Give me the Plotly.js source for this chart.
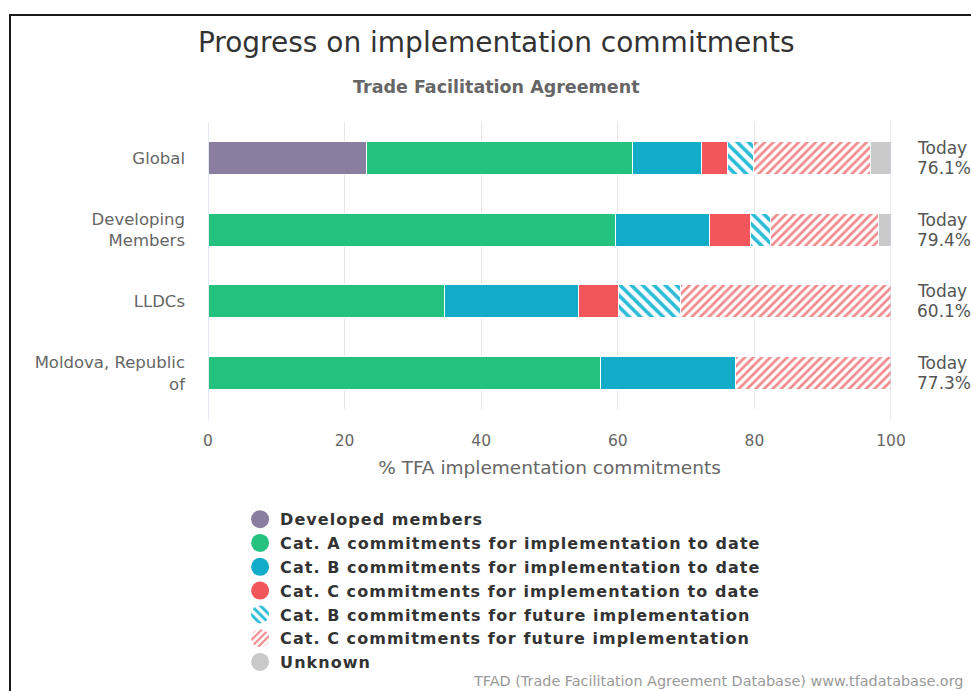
<!DOCTYPE html>
<html>
<head>
<meta charset="utf-8">
<script src="https://cdn.plot.ly/plotly-3.0.1.min.js"></script>
<style>
  html, body { margin: 0; padding: 0; background: #fff; }
  #chart { position: absolute; left: 0; top: 0; width: 971px; height: 691px; }
  #frame { position: absolute; left: 9px; top: 14px; right: 0; bottom: 0;
           border-top: 2px solid #1a1a1a; border-left: 2px solid #1a1a1a; pointer-events: none; }
  #chart .legendtext { letter-spacing: 1.05px; }
  #chart .legend .scrollbox, #chart .legend g { clip-path: none !important; }
</style>
</head>
<body>
<div id="chart"></div>
<div id="frame"></div>
<script>
// ---- data ----
const categories = ["Global", "Developing<br>Members", "LLDCs", "Moldova, Republic<br>of"];
const developed = [23.2, 0, 0, 0];
const catA = [39.0, 59.7, 34.6, 57.5];
const catB = [10.0, 13.7, 19.6, 19.8];
const catC = [3.9, 6.0, 5.9, 0];
const catBFuture = [3.8, 3.0, 9.1, 0];
const catCFuture = [17.1, 15.7, 30.8, 22.7];
const unknown = [3.0, 1.9, 0, 0];
const todayWord = "Today";
const todayValues = ["76.1%", "79.4%", "60.1%", "77.3%"];
const xTicks = [0, 20, 40, 60, 80, 100];

const seriesNames = [
  "Developed members",
  "Cat. A commitments for implementation to date",
  "Cat. B commitments for implementation to date",
  "Cat. C commitments for implementation to date",
  "Cat. B commitments for future implementation",
  "Cat. C commitments for future implementation",
  "Unknown"
];
const seriesValues = [developed, catA, catB, catC, catBFuture, catCFuture, unknown];
const seriesColors = ["#8a7ea0", "#25c17f", "#13acc8", "#f2555a", "#2bbcd8", "#f0898b", "#c9c9c9"];
const seriesPatterns = [null, null, null, null, {shape: "\\", size: 8, solidity: 0.45},
                        {shape: "/", size: 6, solidity: 0.45}, null];

const traces = seriesNames.map((name, i) => {
  const marker = {color: seriesColors[i], line: {color: "#ffffff", width: 1}};
  if (seriesPatterns[i]) {
    marker.pattern = Object.assign({fillmode: "replace", fgcolor: seriesColors[i], bgcolor: "#ffffff"}, seriesPatterns[i]);
  }
  return {
    type: "bar", orientation: "h", name: name,
    x: seriesValues[i], y: categories,
    marker: marker, hoverinfo: "skip"
  };
});

const annoFont = {family: "DejaVu Sans", size: 17, color: "#555555"};
const annotations = [];
todayValues.forEach((v, i) => {
  annotations.push({
    x: 100, y: categories[i], xref: "x", yref: "y",
    text: todayWord, showarrow: false, xanchor: "left", yanchor: "middle",
    xshift: 24, yshift: 10, font: annoFont
  });
  annotations.push({
    x: 100, y: categories[i], xref: "x", yref: "y",
    text: v, showarrow: false, xanchor: "left", yanchor: "middle",
    xshift: 24, yshift: -10, font: annoFont
  });
});
annotations.push({
  xref: "paper", yref: "paper", x: 1, y: 0, xanchor: "right", yanchor: "middle",
  xshift: 74, yshift: -272,
  text: "TFAD (Trade Facilitation Agreement Database) www.tfadatabase.org",
  showarrow: false, font: {family: "DejaVu Sans", size: 14.4, color: "#999999"}
});
annotations.push({
  xref: "paper", yref: "paper", x: 0.423, y: 1, xanchor: "center", yanchor: "middle",
  yshift: 35,
  text: "<b>Trade Facilitation Agreement</b>",
  showarrow: false, font: {family: "DejaVu Sans", size: 17.5, color: "#666666"}
});

const layout = {
  width: 971, height: 691,
  margin: {l: 208, r: 80, t: 122, b: 273},
  paper_bgcolor: "#ffffff", plot_bgcolor: "#ffffff",
  barmode: "stack", bargap: 0.54,
  showlegend: true,
  title: {
    text: "Progress on implementation commitments",
    x: 0.511, xref: "container", xanchor: "center",
    y: 1 - 42 / 691, yref: "container", yanchor: "middle",
    font: {family: "DejaVu Sans", size: 28, color: "#333333"}
  },
  xaxis: {
    range: [0, 100], tickvals: xTicks, ticktext: xTicks.map(String),
    showgrid: true, gridcolor: "#e6e6e6", gridwidth: 1,
    zeroline: false, showline: false, ticks: "",
    tickfont: {family: "DejaVu Sans", size: 15.5, color: "#666666"},
    ticklabelstandoff: 20,
    title: {text: "% TFA implementation commitments", standoff: 12,
            font: {family: "DejaVu Sans", size: 18.5, color: "#666666"}}
  },
  yaxis: {
    autorange: "reversed", type: "category",
    showgrid: false, zeroline: false, showline: false, ticks: "",
    ticklabelstandoff: 22,
    tickfont: {family: "DejaVu Sans", size: 16.5, color: "#666666"}
  },
  shapes: [
    {type: "line", xref: "x", yref: "paper", x0: 0, x1: 0, y0: -0.04, y1: 1, line: {color: "#ccd6eb", width: 1}},
    {type: "line", xref: "x", yref: "paper", x0: 100, x1: 100, y0: -0.04, y1: 1, line: {color: "#ccd6eb", width: 1}}
  ],
  legend: {
    x: 0.047, y: -0.325, xanchor: "left", yanchor: "top",
    traceorder: "normal", orientation: "v",
    font: {family: "DejaVu Sans", size: 16, color: "#333333", weight: "bold"},
    tracegroupgap: 0, itemclick: false, itemdoubleclick: false,
    bgcolor: "rgba(0,0,0,0)"
  },
  annotations: annotations
};

Plotly.newPlot("chart", traces, layout, {displayModeBar: false, staticPlot: true}).then(gd => {
  // round legend swatches, as in the original chart
  gd.querySelectorAll(".legend .legendpoints path").forEach(p => {
    p.setAttribute("d", "M9,0A9,9 0 1,1 0,-9A9,9 0 0,1 9,0Z");
    p.style.strokeWidth = "0px";
  });
});
</script>
</body>
</html>
